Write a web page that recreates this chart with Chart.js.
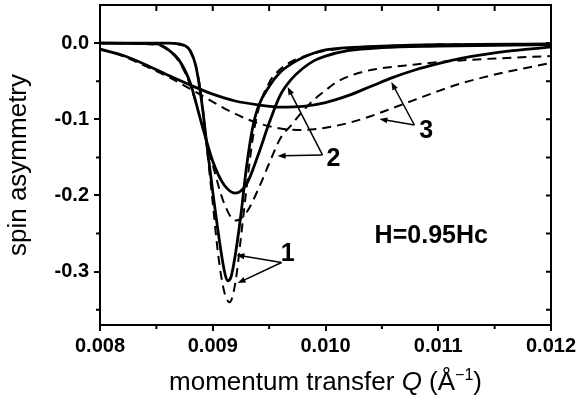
<!DOCTYPE html>
<html>
<head>
<meta charset="utf-8">
<script src="https://cdn.jsdelivr.net/npm/chart.js@4.4.0/dist/chart.umd.min.js"></script>
<style>
  html, body { margin: 0; padding: 0; background: #fff; }
  canvas { display: block; }
</style>
</head>
<body>
<canvas id="chart" width="577" height="397"></canvas>
<script>
// curve 1 (sharp dip), solid and dashed
const qSolid1 = [0.008, 0.0086, 0.0087, 0.00875, 0.0088, 0.00885, 0.0089, 0.00895, 0.009, 0.00905, 0.0091, 0.00913, 0.00916, 0.0092, 0.00925, 0.0093, 0.00935, 0.0094, 0.0095, 0.0096, 0.0097, 0.0098, 0.0099, 0.0100, 0.0102, 0.0105, 0.011, 0.012];
const solid1  = [0, 0, -0.001, -0.003, -0.01, -0.03, -0.075, -0.136, -0.195, -0.25, -0.297, -0.312, -0.308, -0.278, -0.225, -0.162, -0.114, -0.085, -0.057, -0.038, -0.027, -0.019, -0.013, -0.009, -0.006, -0.004, -0.002, -0.001];
const qDashed1 = [0.008, 0.0086, 0.0087, 0.0088, 0.00885, 0.0089, 0.00895, 0.009, 0.00905, 0.0091, 0.00915, 0.0092, 0.00925, 0.0093, 0.00935, 0.0094, 0.0095, 0.0096, 0.0097, 0.0098, 0.0100, 0.0102, 0.0105, 0.011, 0.012];
const dashed1  = [0, 0, -0.002, -0.01, -0.03, -0.07, -0.14, -0.21, -0.28, -0.325, -0.34, -0.315, -0.255, -0.19, -0.13, -0.09, -0.052, -0.034, -0.024, -0.018, -0.01, -0.007, -0.004, -0.002, -0.001];

// curve 2
const qSolid2 = [0.008, 0.0085, 0.0086, 0.0087, 0.0088, 0.0089, 0.009, 0.0091, 0.0092, 0.0093, 0.0094, 0.0095, 0.0096, 0.0097, 0.0098, 0.0099, 0.0100, 0.0102, 0.0105, 0.011, 0.012];
const solid2  = [0, -0.001, -0.008, -0.022, -0.052, -0.105, -0.155, -0.186, -0.197, -0.185, -0.148, -0.105, -0.068, -0.047, -0.033, -0.023, -0.017, -0.01, -0.006, -0.004, -0.002];
const qDashed2 = [0.008, 0.0085, 0.0086, 0.0087, 0.0088, 0.0089, 0.009, 0.0091, 0.0092, 0.0093, 0.0094, 0.0095, 0.0096, 0.0097, 0.0098, 0.0099, 0.0100, 0.0101, 0.0103, 0.0105, 0.0108, 0.011, 0.0114, 0.012];
const dashed2  = [0, -0.002, -0.009, -0.024, -0.055, -0.105, -0.16, -0.21, -0.233, -0.222, -0.193, -0.158, -0.125, -0.107, -0.089, -0.074, -0.062, -0.051, -0.039, -0.033, -0.028, -0.025, -0.021, -0.017];

// curve 3 (broad)
const qSolid3 = [0.008, 0.0082, 0.0084, 0.0086, 0.0088, 0.009, 0.0092, 0.0094, 0.0096, 0.0098, 0.0100, 0.0102, 0.0104, 0.0106, 0.0108, 0.011, 0.0112, 0.0114, 0.0116, 0.0118, 0.012];
const solid3  = [-0.008, -0.016, -0.028, -0.042, -0.055, -0.067, -0.076, -0.081, -0.084, -0.083, -0.078, -0.069, -0.057, -0.045, -0.035, -0.027, -0.02, -0.015, -0.011, -0.008, -0.005];
const qDashed3 = [0.008, 0.0082, 0.0084, 0.0086, 0.0088, 0.009, 0.0092, 0.0094, 0.0096, 0.0098, 0.0100, 0.0102, 0.0104, 0.0106, 0.0108, 0.011, 0.0112, 0.0114, 0.0116, 0.0118, 0.012];
const dashed3  = [-0.008, -0.017, -0.03, -0.044, -0.06, -0.077, -0.093, -0.105, -0.112, -0.114, -0.111, -0.105, -0.096, -0.085, -0.074, -0.063, -0.053, -0.045, -0.038, -0.032, -0.026];

const xTicks = [0.008, 0.009, 0.010, 0.011, 0.012];
const xMinorTicks = [0.0085, 0.0095, 0.0105, 0.0115];
const yTicks = [-0.3, -0.2, -0.1, 0.0];
const yMinorTicks = [-0.35, -0.25, -0.15, -0.05];

const FONT = "'Liberation Sans', Arial, Helvetica, sans-serif";

// arrows: label, label position, arrow origin, arrow tips (data units)
const notes = [
  { text: '1', at: [0.009664, -0.274], from: [0.00961, -0.288], to: [[0.00921, -0.278], [0.00922, -0.315]] },
  { text: '2', at: [0.01007, -0.1494], from: [0.009973, -0.1468], to: [[0.009664, -0.0577], [0.009575, -0.1481]] },
  { text: '3', at: [0.010894, -0.1127], from: [0.010788, -0.1075], to: [[0.010584, -0.0511], [0.010478, -0.0996]] }
];

function pts(q, v) {
  return q.map((x, i) => ({ x: x, y: v[i] }));
}

function curve(q, v, dashed) {
  return {
    data: pts(q, v),
    borderColor: '#000',
    borderWidth: dashed ? 2 : 2.8,
    borderDash: dashed ? [9, 6] : [],
    pointRadius: 0,
    fill: false,
    cubicInterpolationMode: 'monotone'
  };
}

function arrow(ctx, x0, y0, x1, y1) {
  const ang = Math.atan2(y1 - y0, x1 - x0);
  const len = 8, half = 3;
  ctx.beginPath();
  ctx.moveTo(x0, y0);
  ctx.lineTo(x1 - Math.cos(ang) * len * 0.6, y1 - Math.sin(ang) * len * 0.6);
  ctx.stroke();
  ctx.beginPath();
  ctx.moveTo(x1, y1);
  ctx.lineTo(x1 - Math.cos(ang) * len - Math.sin(ang) * half, y1 - Math.sin(ang) * len + Math.cos(ang) * half);
  ctx.lineTo(x1 - Math.cos(ang) * len + Math.sin(ang) * half, y1 - Math.sin(ang) * len - Math.cos(ang) * half);
  ctx.closePath();
  ctx.fill();
}

const decor = {
  id: 'decor',
  afterDatasetsDraw(chart) {
    const ctx = chart.ctx;
    const a = chart.chartArea;
    const x = chart.scales.x, y = chart.scales.y;
    ctx.save();
    ctx.strokeStyle = '#000';
    ctx.fillStyle = '#000';

    // top and right frame
    ctx.lineWidth = 2;
    ctx.beginPath();
    ctx.moveTo(a.left, a.top);
    ctx.lineTo(a.right, a.top);
    ctx.lineTo(a.right, a.bottom);
    ctx.stroke();

    // inward ticks on top / right, minor ticks on bottom / left
    ctx.beginPath();
    xTicks.concat(xMinorTicks).forEach(v => {
      const px = x.getPixelForValue(v);
      ctx.moveTo(px, a.top); ctx.lineTo(px, a.top + 6);
    });
    xMinorTicks.forEach(v => {
      const px = x.getPixelForValue(v);
      ctx.moveTo(px, a.bottom); ctx.lineTo(px, a.bottom + 4);
    });
    yTicks.concat(yMinorTicks).forEach(v => {
      const py = y.getPixelForValue(v);
      ctx.moveTo(a.right, py); ctx.lineTo(a.right - 5, py);
    });
    yMinorTicks.forEach(v => {
      const py = y.getPixelForValue(v);
      ctx.moveTo(a.left, py); ctx.lineTo(a.left - 4, py);
    });
    ctx.stroke();

    // annotations
    ctx.lineWidth = 1.5;
    ctx.font = 'bold 25px ' + FONT;
    ctx.textAlign = 'center';
    ctx.textBaseline = 'alphabetic';
    notes.forEach(n => {
      const ox = x.getPixelForValue(n.from[0]), oy = y.getPixelForValue(n.from[1]);
      n.to.forEach(t => {
        arrow(ctx, ox, oy, x.getPixelForValue(t[0]), y.getPixelForValue(t[1]));
      });
      ctx.fillText(n.text, x.getPixelForValue(n.at[0]), y.getPixelForValue(n.at[1]) + 9);
    });
    ctx.fillText('H=0.95Hc', x.getPixelForValue(0.010938), y.getPixelForValue(-0.2503) + 9);

    // x axis title with italic Q and superscript
    const parts = [
      { t: 'momentum transfer ', f: '26px ' + FONT, dy: 0 },
      { t: 'Q', f: 'italic 26px ' + FONT, dy: 0 },
      { t: ' (\u00C5', f: '26px ' + FONT, dy: 0 },
      { t: '\u22121', f: '16px ' + FONT, dy: -10 },
      { t: ')', f: '26px ' + FONT, dy: 0 }
    ];
    let total = 0;
    parts.forEach(p => { ctx.font = p.f; p.w = ctx.measureText(p.t).width; total += p.w; });
    let cx = (a.left + a.right) / 2 - total / 2;
    ctx.textAlign = 'left';
    parts.forEach(p => {
      ctx.font = p.f;
      ctx.fillText(p.t, cx, 390 + p.dy);
      cx += p.w;
    });
    ctx.restore();
  }
};

new Chart(document.getElementById('chart'), {
  type: 'line',
  data: {
    datasets: [
      curve(qDashed3, dashed3, true),
      curve(qDashed2, dashed2, true),
      curve(qDashed1, dashed1, true),
      curve(qSolid3, solid3, false),
      curve(qSolid2, solid2, false),
      curve(qSolid1, solid1, false)
    ]
  },
  options: {
    responsive: false,
    animation: false,
    devicePixelRatio: 1,
    layout: { padding: { top: 5, right: 26, left: 0, bottom: 0 } },
    plugins: { legend: { display: false }, tooltip: { enabled: false } },
    scales: {
      x: {
        type: 'linear',
        min: 0.008,
        max: 0.012,
        afterBuildTicks: s => { s.ticks = xTicks.map(v => ({ value: v })); },
        afterFit: s => { s.height = 72; s.paddingLeft = 0; s.paddingRight = 0; },
        ticks: {
          callback: v => v.toFixed(3),
          font: { family: FONT, size: 20, weight: 'bold' },
          color: '#000',
          padding: 3,
          maxRotation: 0,
          autoSkip: false
        },
        grid: { drawOnChartArea: false, drawTicks: true, tickLength: 6, color: '#000', lineWidth: 2 },
        border: { display: true, color: '#000', width: 2 }
      },
      y: {
        type: 'linear',
        min: -0.37,
        max: 0.05,
        afterBuildTicks: s => { s.ticks = yTicks.map(v => ({ value: v })); },
        afterFit: s => { s.width = 100; s.paddingTop = 0; s.paddingBottom = 0; },
        ticks: {
          callback: v => v.toFixed(1),
          font: { family: FONT, size: 20, weight: 'bold' },
          color: '#000',
          padding: 5
        },
        grid: { drawOnChartArea: false, drawTicks: true, tickLength: 6, color: '#000', lineWidth: 2 },
        border: { display: true, color: '#000', width: 2 },
        title: {
          display: true,
          text: 'spin asymmetry',
          font: { family: FONT, size: 26 },
          color: '#000',
          padding: { top: 3, bottom: 0 }
        }
      }
    }
  },
  plugins: [decor]
});
</script>
</body>
</html>
